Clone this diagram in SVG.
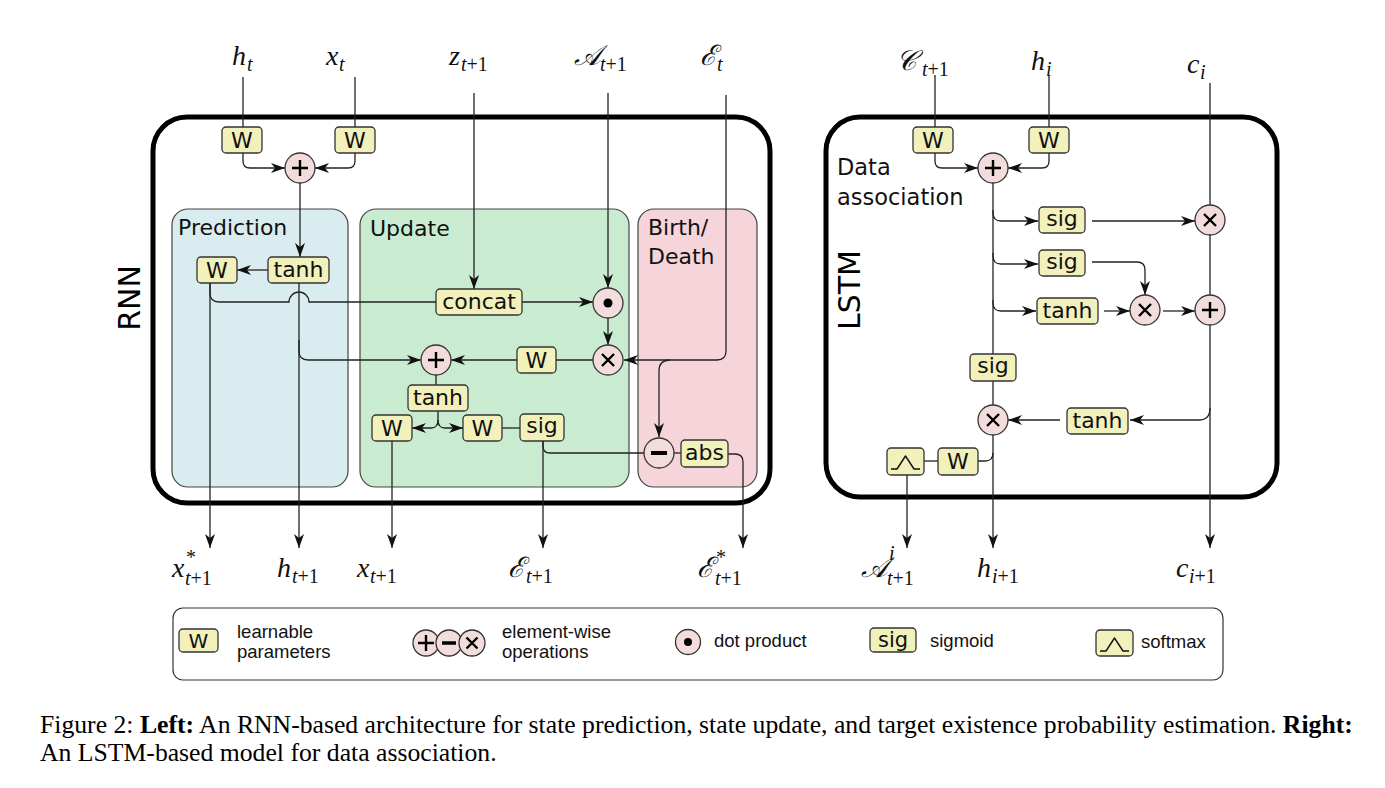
<svg xmlns="http://www.w3.org/2000/svg" width="1385" height="788" viewBox="0 0 1385 788">
<style>
.frame{fill:none;stroke:#000;stroke-width:5}
.sec{stroke:#444;stroke-width:1.2}
.box{fill:#f2f0bb;stroke:#333;stroke-width:1.3}
.op{fill:#f2dcdc;stroke:#333;stroke-width:1.3}
.sym{stroke:#000;stroke-width:2.4;stroke-linecap:butt;fill:none}
.ln{fill:none;stroke:#222;stroke-width:1.3}
.ar{marker-end:url(#arr)}
.bl{font-family:"DejaVu Sans",sans-serif;font-size:22px;fill:#111;text-anchor:middle}
.sl{font-family:"DejaVu Sans",sans-serif;font-size:22px;fill:#111}
.big{font-family:"DejaVu Sans",sans-serif;font-size:30px;fill:#000;text-anchor:middle}
.m{font-family:"Liberation Serif",serif;font-style:italic;font-size:28px;fill:#111}
.s{font-family:"Liberation Serif",serif;font-style:italic;font-size:20px;fill:#111}
.u{font-style:normal}
.lg{font-family:"Liberation Sans",Arial,sans-serif;font-size:18.5px;fill:#111}
.cap{font-family:"Liberation Serif",serif;font-size:25.7px;fill:#000}
</style>
<defs>
<marker id="arr" viewBox="0 0 14 10" refX="14" refY="5" markerWidth="14" markerHeight="10" markerUnits="userSpaceOnUse" orient="auto">
<path d="M0,0 L14,5 L0,10 L4,5 Z" fill="#111"/>
</marker>
</defs>
<rect width="1385" height="788" fill="#fff"/>

<!-- containers -->
<g id="rnn-frame">
<rect class="sec" x="172" y="209" width="176" height="278" rx="16" fill="#d9edf0"/>
<rect class="sec" x="360" y="209" width="269" height="278" rx="16" fill="#c9ecd1"/>
<rect class="sec" x="638" y="209" width="119" height="278" rx="16" fill="#f5d4da"/>
<rect class="frame" x="153" y="117" width="617" height="386" rx="34"/>
<text class="big" transform="translate(140,298) rotate(-90)">RNN</text>
<text class="sl" x="178" y="235">Prediction</text>
<text class="sl" x="370" y="236">Update</text>
<text class="sl" x="648" y="235">Birth/</text>
<text class="sl" x="648" y="264">Death</text>
</g>
<g id="lstm-frame">
<rect class="frame" x="826" y="117" width="451" height="380" rx="34"/>
<text class="big" transform="translate(860,290) rotate(-90)">LSTM</text>
<text class="sl" x="837" y="175" style="font-size:22.5px">Data</text>
<text class="sl" x="837" y="205" style="font-size:22.5px">association</text>
</g>

<!-- connectors -->
<g id="connectors">
<path class="ln" d="M243,77 V127"/>
<path class="ln" d="M355,77 V127"/>
<path class="ln ar" d="M243,153 V161 Q243,168 250,168 H285"/>
<path class="ln ar" d="M355,153 V161 Q355,168 348,168 H315"/>
<path class="ln ar" d="M300,183 V257"/>
<path class="ln ar" d="M268,270 H237"/>
<path class="ln ar" d="M210,283 V548"/>
<path class="ln" d="M210,283 V293 Q210,302 219,302 H289 A10,10 0 0 1 309,302 H436"/>
<path class="ln ar" d="M299,283 V548"/>
<path class="ln ar" d="M299,340 V351 Q299,360 308,360 H421"/>
<path class="ln ar" d="M474,93 V289"/>
<path class="ln ar" d="M608,93 V288"/>
<path class="ln ar" d="M522,302 H593"/>
<path class="ln ar" d="M608,318 V345"/>
<path class="ln" d="M593,360 H556"/>
<path class="ln ar" d="M517,360 H451"/>
<path class="ln" d="M436,375 V385"/>
<path class="ln ar" d="M438,411 V420 Q438,428 431,428 H412"/>
<path class="ln ar" d="M438,420 Q438,428 445,428 H463"/>
<path class="ln" d="M502,428 H520"/>
<path class="ln ar" d="M392,441 V548"/>
<path class="ln ar" d="M543,441 V548"/>
<path class="ln" d="M543,441 V446 Q543,453 550,453 H644"/>
<path class="ln ar" d="M726,95 V351 Q726,360 717,360 H624"/>
<path class="ln ar" d="M670,360 Q659,360 659,371 V437"/>
<path class="ln" d="M674,453 H681"/>
<path class="ln ar" d="M728,454 H735 Q743,454 743,462 V548"/>

<path class="ln" d="M935,75 V127"/>
<path class="ln" d="M1049,75 V127"/>
<path class="ln" d="M1210,83 V205"/>
<path class="ln ar" d="M935,153 V161 Q935,168 942,168 H978"/>
<path class="ln ar" d="M1049,153 V161 Q1049,168 1042,168 H1008"/>
<path class="ln" d="M993,183 V354"/>
<path class="ln" d="M993,381 V405"/>
<path class="ln ar" d="M993,435 V548"/>
<path class="ln ar" d="M993,210 V213 Q993,221 1001,221 H1038"/>
<path class="ln ar" d="M993,253 V256 Q993,264 1001,264 H1038"/>
<path class="ln ar" d="M993,300 V303 Q993,311 1001,311 H1036"/>
<path class="ln ar" d="M1092,221 H1195"/>
<path class="ln" d="M1210,235 V295"/>
<path class="ln ar" d="M1092,262 H1137 Q1145,262 1145,270 V295"/>
<path class="ln ar" d="M1104,311 H1130"/>
<path class="ln ar" d="M1163,311 H1195"/>
<path class="ln ar" d="M1210,325 V548"/>
<path class="ln ar" d="M1210,408 Q1210,420 1199,420 H1130"/>
<path class="ln ar" d="M1060,420 H1008"/>
<path class="ln" d="M978,461 H985 Q993,461 993,453"/>
<path class="ln" d="M924,461 H938"/>
<path class="ln ar" d="M907,475 V548"/>
</g>

<!-- RNN nodes -->
<g id="rnn-W-h"><rect class="box" x="222" y="127" width="40" height="26" rx="4"/><text class="bl" x="242" y="148">W</text></g>
<g id="rnn-W-x"><rect class="box" x="335" y="127" width="40" height="26" rx="4"/><text class="bl" x="355" y="148">W</text></g>
<g id="rnn-plus-in"><circle class="op" cx="300" cy="168" r="15"/><path class="sym" d="M292,168 H308 M300,160 V176"/></g>
<g id="pred-W"><rect class="box" x="197" y="257" width="40" height="26" rx="4"/><text class="bl" x="217" y="278">W</text></g>
<g id="pred-tanh"><rect class="box" x="268" y="257" width="61" height="26" rx="4"/><text class="bl" x="298.5" y="277">tanh</text></g>
<g id="upd-concat"><rect class="box" x="436" y="289" width="86" height="26" rx="4"/><text class="bl" x="479" y="309">concat</text></g>
<g id="upd-dot"><circle class="op" cx="608" cy="303" r="15"/><circle cx="608" cy="303" r="4.5" fill="#000"/></g>
<g id="upd-times"><circle class="op" cx="608" cy="360" r="15"/><path class="sym" d="M602,354 L614,366 M614,354 L602,366"/></g>
<g id="upd-W"><rect class="box" x="517" y="347" width="39" height="26" rx="4"/><text class="bl" x="536.5" y="368">W</text></g>
<g id="upd-plus"><circle class="op" cx="436" cy="360" r="15"/><path class="sym" d="M428,360 H444 M436,352 V368"/></g>
<g id="upd-tanh"><rect class="box" x="408" y="385" width="60" height="26" rx="4"/><text class="bl" x="438" y="405">tanh</text></g>
<g id="upd-W-left"><rect class="box" x="372" y="415" width="40" height="26" rx="4"/><text class="bl" x="392" y="436">W</text></g>
<g id="upd-W-right"><rect class="box" x="463" y="415" width="39" height="26" rx="4"/><text class="bl" x="482.5" y="436">W</text></g>
<g id="upd-sig"><rect class="box" x="520" y="414" width="44" height="27" rx="4"/><text class="bl" x="542" y="433">sig</text></g>
<g id="bd-minus"><circle class="op" cx="659" cy="453" r="15"/><path class="sym" d="M651,453 H667" style="stroke-width:4"/></g>
<g id="bd-abs"><rect class="box" x="681" y="440" width="47" height="27" rx="4"/><text class="bl" x="704.5" y="460">abs</text></g>

<!-- LSTM nodes -->
<g id="lstm-W-c"><rect class="box" x="913" y="127" width="40" height="26" rx="4"/><text class="bl" x="933" y="148">W</text></g>
<g id="lstm-W-h"><rect class="box" x="1029" y="127" width="40" height="26" rx="4"/><text class="bl" x="1049" y="148">W</text></g>
<g id="lstm-plus-in"><circle class="op" cx="993" cy="168" r="15"/><path class="sym" d="M985,168 H1001 M993,160 V176"/></g>
<g id="lstm-sig1"><rect class="box" x="1039" y="207" width="46" height="26" rx="4"/><text class="bl" x="1062" y="226">sig</text></g>
<g id="lstm-times1"><circle class="op" cx="1210" cy="220" r="15"/><path class="sym" d="M1204,214 L1216,226 M1216,214 L1204,226"/></g>
<g id="lstm-sig2"><rect class="box" x="1039" y="250" width="46" height="26" rx="4"/><text class="bl" x="1062" y="269">sig</text></g>
<g id="lstm-tanh"><rect class="box" x="1037" y="298" width="61" height="26" rx="4"/><text class="bl" x="1067.5" y="318">tanh</text></g>
<g id="lstm-times2"><circle class="op" cx="1145" cy="310" r="15"/><path class="sym" d="M1139,304 L1151,316 M1151,304 L1139,316"/></g>
<g id="lstm-plus2"><circle class="op" cx="1210" cy="310" r="15"/><path class="sym" d="M1202,310 H1218 M1210,302 V318"/></g>
<g id="lstm-sig3"><rect class="box" x="970" y="354" width="46" height="27" rx="4"/><text class="bl" x="993" y="373">sig</text></g>
<g id="lstm-times3"><circle class="op" cx="993" cy="420" r="15"/><path class="sym" d="M987,414 L999,426 M999,414 L987,426"/></g>
<g id="lstm-tanh2"><rect class="box" x="1067" y="408" width="61" height="26" rx="4"/><text class="bl" x="1097.5" y="428">tanh</text></g>
<g id="lstm-softmax"><rect class="box" x="887" y="448" width="37" height="27" rx="4"/><path d="M891,469 H897 L905.5,456 L914,469 H920" fill="none" stroke="#111" stroke-width="1.4" stroke-linejoin="round"/></g>
<g id="lstm-W-s"><rect class="box" x="938" y="448" width="40" height="27" rx="4"/><text class="bl" x="958" y="469">W</text></g>

<!-- math labels -->
<g id="labels">
<text class="m" x="232" y="65">h</text><text class="s" x="247" y="71">t</text>
<text class="m" x="326" y="65">x</text><text class="s" x="339" y="71">t</text>
<text class="m" x="449" y="65">z</text><text class="s" x="461" y="71">t<tspan class="u">+1</tspan></text>
<text class="m" x="574" y="65">𝒜</text><text class="s" x="600" y="71">t<tspan class="u">+1</tspan></text>
<text class="m" x="700" y="65">ℰ</text><text class="s" x="717" y="71">t</text>
<text class="m" x="172" y="577">x</text><text class="s u" x="186" y="564">*</text><text class="s" x="185" y="585">t<tspan class="u">+1</tspan></text>
<text class="m" x="277" y="577">h</text><text class="s" x="292" y="583">t<tspan class="u">+1</tspan></text>
<text class="m" x="357" y="577">x</text><text class="s" x="370" y="583">t<tspan class="u">+1</tspan></text>
<text class="m" x="508" y="577">ℰ</text><text class="s" x="526" y="583">t<tspan class="u">+1</tspan></text>
<text class="m" x="697" y="577">ℰ</text><text class="s u" x="716" y="564">*</text><text class="s" x="715" y="585">t<tspan class="u">+1</tspan></text>
<text class="m" x="896" y="70">𝒞</text><text class="s" x="922" y="76">t<tspan class="u">+1</tspan></text>
<text class="m" x="1031" y="70">h</text><text class="s" x="1046" y="76">i</text>
<text class="m" x="1187" y="73">c</text><text class="s" x="1200" y="79">i</text>
<text class="m" x="861" y="577">𝒜</text><text class="s" x="889" y="560">i</text><text class="s" x="887" y="585">t<tspan class="u">+1</tspan></text>
<text class="m" x="977" y="577">h</text><text class="s" x="992" y="583">i<tspan class="u">+1</tspan></text>
<text class="m" x="1176" y="577">c</text><text class="s" x="1189" y="583">i<tspan class="u">+1</tspan></text>
</g>

<!-- legend -->
<g id="legend">
<rect x="173" y="608" width="1050" height="72" rx="10" fill="#fff" stroke="#333" stroke-width="1.2"/>
<rect class="box" x="179" y="629" width="39" height="23" rx="4"/><text class="bl" x="198.5" y="648" style="font-size:20px">W</text>
<text class="lg" x="237" y="638">learnable</text>
<text class="lg" x="237" y="658">parameters</text>
<circle class="op" cx="426" cy="643" r="13"/><path class="sym" d="M418,643 H434 M426,635 V651"/>
<circle class="op" cx="449" cy="643" r="13"/><path class="sym" d="M442,643 H456" style="stroke-width:3.5"/>
<circle class="op" cx="472" cy="643" r="13"/><path class="sym" d="M466.5,637.5 L477.5,648.5 M477.5,637.5 L466.5,648.5"/>
<text class="lg" x="502" y="638">element-wise</text>
<text class="lg" x="502" y="658">operations</text>
<circle class="op" cx="688" cy="642" r="12.5"/><circle cx="688" cy="642" r="4" fill="#000"/>
<text class="lg" x="714" y="647">dot product</text>
<rect class="box" x="870" y="628" width="46" height="24" rx="4"/><text class="bl" x="893" y="647" style="font-size:21px">sig</text>
<text class="lg" x="930" y="647">sigmoid</text>
<rect class="box" x="1096" y="630" width="37" height="26" rx="4"/><path d="M1100,651 H1106 L1114.5,638 L1123,651 H1129" fill="none" stroke="#111" stroke-width="1.4" stroke-linejoin="round"/>
<text class="lg" x="1141" y="648">softmax</text>
</g>

<!-- caption -->
<text class="cap" x="40" y="733">Figure 2: <tspan font-weight="bold">Left:</tspan> An RNN-based architecture for state prediction, state update, and target existence probability estimation. <tspan font-weight="bold">Right:</tspan></text>
<text class="cap" x="40" y="761">An LSTM-based model for data association.</text>
</svg>
